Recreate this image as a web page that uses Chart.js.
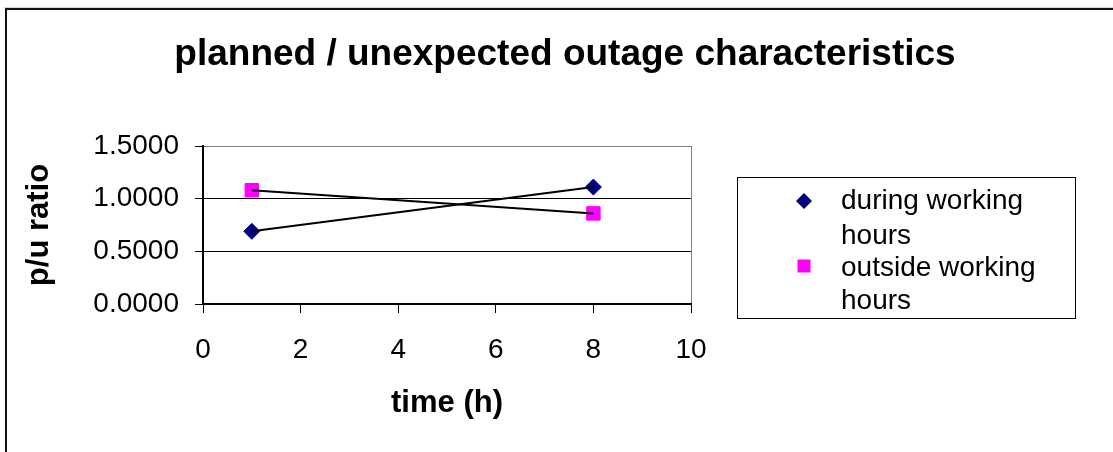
<!DOCTYPE html>
<html>
<head>
<meta charset="utf-8">
<title>planned / unexpected outage characteristics</title>
<script src="https://cdn.jsdelivr.net/npm/chart.js@4/dist/chart.umd.min.js"></script>
<style>
  html, body { margin: 0; padding: 0; background: #fff; }
  canvas { display: block; }
</style>
</head>
<body>
<canvas id="chart" width="1113" height="452"></canvas>
<script>
// chart values
const hours = [1, 8];
const duringWorking = [0.69, 1.11];
const outsideWorking = [1.08, 0.86];
const seriesNames = ['during working hours', 'outside working hours'];
const legendLines = [['during working', 'hours'], ['outside working', 'hours']];
const chartTitle = 'planned / unexpected outage characteristics';
const xTitle = 'time (h)';
const yTitle = 'p/u ratio';

const NAVY = '#000080';
const MAGENTA = '#ff00ff';
const FONT = '"Liberation Sans", Arial, sans-serif';

function points(ys) {
  return hours.map((h, i) => ({ x: h, y: ys[i] }));
}

// outer frame, title and the boxed legend on the right
const decorations = {
  id: 'decorations',
  beforeDraw(chart) {
    const ctx = chart.ctx;
    ctx.save();
    ctx.fillStyle = '#fff';
    ctx.fillRect(0, 0, chart.width, chart.height);
    ctx.fillStyle = '#d8d8d8';
    ctx.fillRect(4, 7, chart.width, 1);
    ctx.fillStyle = '#111';
    ctx.fillRect(5, 8, chart.width, 2);
    ctx.fillRect(5, 8, 2, chart.height);
    ctx.restore();
  },
  afterDraw(chart) {
    const ctx = chart.ctx;
    ctx.save();
    ctx.fillStyle = '#000';
    ctx.font = 'bold 37px ' + FONT;
    ctx.textAlign = 'center';
    ctx.textBaseline = 'alphabetic';
    ctx.fillText(chartTitle, 565, 65);

    // legend box
    ctx.strokeStyle = '#000';
    ctx.lineWidth = 1;
    ctx.strokeRect(737.5, 177.5, 338, 141);
    ctx.font = '28px ' + FONT;
    ctx.textAlign = 'left';
    const baselines = [[209, 244], [276, 309]];
    const markerY = [201, 266];
    legendLines.forEach((lines, i) => {
      lines.forEach((t, j) => ctx.fillText(t, 841, baselines[i][j]));
      const mx = 804, my = markerY[i];
      if (i === 0) {
        ctx.fillStyle = NAVY;
        ctx.beginPath();
        ctx.moveTo(mx, my - 8);
        ctx.lineTo(mx + 8, my);
        ctx.lineTo(mx, my + 8);
        ctx.lineTo(mx - 8, my);
        ctx.closePath();
        ctx.fill();
      } else {
        ctx.fillStyle = MAGENTA;
        ctx.fillRect(mx - 6.5, my - 6.5, 13, 13);
      }
      ctx.fillStyle = '#000';
    });
    ctx.restore();
  },
};

new Chart(document.getElementById('chart'), {
  type: 'scatter',
  data: {
    datasets: [
      // lines first so they are painted over the markers
      { label: seriesNames[0], data: points(duringWorking), showLine: true, borderColor: '#000', borderWidth: 2, pointRadius: 0 },
      { label: seriesNames[1], data: points(outsideWorking), showLine: true, borderColor: '#000', borderWidth: 2, pointRadius: 0 },
      { label: seriesNames[0], data: points(duringWorking), pointStyle: 'rectRot', pointRadius: 8, backgroundColor: NAVY, borderColor: NAVY, borderWidth: 1 },
      { label: seriesNames[1], data: points(outsideWorking), pointStyle: 'rect', pointRadius: 9.5, backgroundColor: MAGENTA, borderColor: MAGENTA, borderWidth: 1 },
    ],
  },
  options: {
    responsive: false,
    animation: false,
    devicePixelRatio: 1,
    layout: { padding: { left: 0, top: 146, right: 422, bottom: 0 } },
    plugins: {
      legend: { display: false },
      title: { display: false },
      tooltip: { enabled: false },
    },
    scales: {
      x: {
        type: 'linear',
        min: 0,
        max: 10,
        ticks: { stepSize: 2, color: '#000', padding: 20, font: { family: FONT, size: 28 } },
        grid: {
          color: (c) => (c.tick && c.tick.value === 10 ? '#808080' : 'rgba(0,0,0,0)'),
          tickColor: '#000',
          tickLength: 9,
          lineWidth: 1,
        },
        border: { color: '#000', width: 2 },
        title: { display: true, text: xTitle, color: '#000', padding: { top: 0, bottom: 30 }, font: { family: FONT, size: 31, weight: 'bold' } },
        afterFit(scale) { scale.height = 148; },
      },
      y: {
        min: 0,
        max: 1.5,
        ticks: {
          stepSize: 0.5,
          color: '#000',
          padding: 16,
          font: { family: FONT, size: 28 },
          callback: (v) => Number(v).toFixed(4),
        },
        grid: {
          color: (c) => (c.tick && c.tick.value === 1.5 ? '#808080' : '#000'),
          tickColor: '#000',
          tickLength: 8,
          lineWidth: 1,
        },
        border: { color: '#000', width: 2 },
        title: { display: true, text: yTitle, color: '#000', padding: { top: 21, bottom: 0 }, font: { family: FONT, size: 31, weight: 'bold' } },
        afterFit(scale) { scale.width = 203; },
      },
    },
  },
  plugins: [decorations],
});
</script>
</body>
</html>
